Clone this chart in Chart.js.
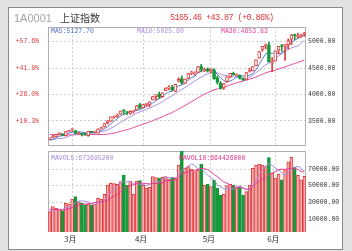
<!DOCTYPE html>
<html lang="zh">
<head>
<meta charset="utf-8">
<title>上证指数</title>
<script src="https://cdn.jsdelivr.net/npm/chart.js@4.4.1/dist/chart.umd.min.js"></script>
<style>
  html, body { margin: 0; padding: 0; }
  body { width: 352px; height: 251px; background: #e2e2e2; position: relative; overflow: hidden; }
  #panel { position: absolute; left: 8px; top: 7px; width: 335px; height: 243px; box-sizing: border-box; background: #fff; border: 1px solid #8a8a8a; }
  canvas { position: absolute; left: 0; top: 0; }
  .t { position: absolute; white-space: nowrap; line-height: 1; font-family: "Liberation Mono", "DejaVu Sans Mono", monospace; }
</style>
</head>
<body>
<div id="panel"></div>
<canvas id="priceChart" width="352" height="251"></canvas>
<canvas id="volChart" width="352" height="251"></canvas>

<!-- header -->
<div class="t" style="left:14px;top:12.5px;font-family:'Liberation Sans',Arial,sans-serif;font-size:11px;color:#a4a4a4">1A0001</div>
<div class="t" style="left:60px;top:13px;font-family:'Noto Sans CJK SC',sans-serif;font-size:10px;color:#333">上证指数</div>
<div class="t" style="left:170px;top:14px;font-size:8.5px;letter-spacing:-0.6px;color:#e0383c">5165.46 +43.87 (+0.86%)</div>

<!-- MA legends -->
<div class="t" style="left:51px;top:28.5px;font-size:6.5px;color:#4a6fcf">MA5:5127.70</div>
<div class="t" style="left:137px;top:28.5px;font-size:6.5px;color:#a48ad8">MA10:5025.80</div>
<div class="t" style="left:221px;top:28.5px;font-size:6.5px;color:#e4409a">MA30:4653.83</div>
<div class="t" style="left:51px;top:155.5px;font-size:6.5px;color:#a48ad8">MAVOL5:673695200</div>
<div class="t" style="left:179px;top:155.5px;font-size:6.5px;color:#e8308a">MAVOL10:664426000</div>

<script>
// 2015 trading days shown (MM-DD)
const dates = [
  '02-12','02-13','02-16','02-17','02-25','02-26','02-27',
  '03-02','03-03','03-04','03-05','03-06','03-09','03-10','03-11','03-12','03-13','03-16','03-17','03-18','03-19','03-20','03-23','03-24','03-25','03-26','03-27','03-30','03-31',
  '04-01','04-02','04-03','04-07','04-08','04-09','04-10','04-13','04-14','04-15','04-16','04-17','04-20','04-21','04-22','04-23','04-24','04-27','04-28','04-29','04-30',
  '05-04','05-05','05-06','05-07','05-08','05-11','05-12','05-13','05-14','05-15','05-18','05-19','05-20','05-21','05-22','05-25','05-26','05-27','05-28','05-29',
  '06-01','06-02','06-03','06-04','06-05','06-08','06-09','06-10','06-11','06-12'
];

const opens = [
  3157,3186,3209,3250,3258,3222,3300,
  3332,3317,3264,3265,3248,3224,3289,3289,3270,3356,3391,3462,3497,3570,3586,3627,3702,3675,3645,3675,3710,3810,
  3748,3815,3803,3899,3963,4014,3958,4072,4123,4140,4061,4255,4301,4212,4304,4405,4387,4420,4528,4449,4483,
  4441,4468,4315,4218,4124,4250,4333,4403,4357,4367,4300,4286,4436,4447,4548,4687,4854,4914,4943,4603,
  4633,4844,4924,4912,4938,5046,5130,5097,5101,5144
];
const highs = [
  3181,3230,3248,3279,3262,3300,3325,
  3355,3320,3286,3266,3267,3306,3297,3309,3350,3385,3450,3507,3578,3600,3632,3689,3715,3678,3693,3700,3795,3835,
  3817,3835,3864,3962,4000,4050,4035,4129,4168,4174,4195,4318,4356,4294,4400,4444,4433,4529,4572,4499,4507,
  4488,4490,4351,4247,4210,4335,4402,4425,4391,4373,4318,4418,4500,4530,4658,4814,4911,4958,4986,4698,
  4829,4911,4951,4950,5052,5140,5147,5164,5144,5178
];
const lows = [
  3150,3178,3202,3246,3220,3215,3291,
  3304,3256,3250,3218,3230,3210,3278,3273,3270,3346,3384,3441,3494,3552,3568,3625,3623,3621,3626,3649,3710,3733,
  3743,3783,3768,3898,3901,3925,3946,4072,4090,4071,4053,4241,4198,4212,4298,4378,4364,4420,4432,4432,4425,
  4411,4286,4198,4103,4097,4233,4317,4363,4348,4291,4260,4276,4425,4447,4548,4687,4820,4862,4614,4431,
  4633,4766,4814,4647,4857,4942,5035,5061,5080,5103
];
const closes = [
  3173.42,3203.83,3246.91,3268.73,3228.84,3298.36,3310.30,
  3336.28,3263.05,3279.53,3248.48,3241.19,3302.41,3286.07,3290.90,3349.32,3372.91,3449.30,3502.85,3577.30,3582.27,3617.32,3687.73,3691.41,3660.73,3682.09,3691.10,3786.57,3747.90,
  3810.29,3825.78,3863.93,3961.38,3994.81,3957.53,4034.31,4121.71,4135.57,4084.16,4194.82,4287.30,4217.08,4293.62,4398.49,4414.51,4393.69,4527.40,4476.62,4476.21,4441.66,
  4480.46,4298.71,4229.27,4112.21,4205.92,4333.58,4401.22,4375.76,4378.31,4308.69,4283.49,4417.55,4446.29,4529.42,4657.60,4813.80,4910.90,4941.71,4620.27,4611.74,
  4828.74,4910.53,4909.98,4947.10,5023.10,5131.88,5113.53,5106.04,5121.59,5165.46
];
// closes before the visible window, needed for the moving averages
const prevCloses = [
  3234.68,3350.52,3351.45,3373.95,3293.46,3285.41,3229.32,3235.30,3222.44,3336.45,3376.50,3116.35,3173.05,3323.61,
  3343.34,3351.76,3383.18,3352.96,3305.74,3262.31,3210.36,3128.30,3204.91,3174.13,3136.53,3075.91,3095.12,3141.59,3157.70
];

// volume, in units of 10000
const volumes = [
  18800,24800,22800,21500,20000,28800,28000,
  34000,36800,30500,28800,26800,27500,27000,28000,34800,34000,39600,50800,52800,52500,51600,54800,62800,50800,55600,40000,55600,56000,
  50800,47000,48000,60800,59600,58800,60000,61000,58000,60000,58800,74800,91500,70800,72800,70000,66800,68800,76000,50800,52000,
  49000,56800,47000,38800,39600,50000,51600,50800,47000,48800,38800,43000,50800,70800,74800,76000,74800,72800,83600,65000,
  59000,64000,57000,69000,78578,84000,72000,62500,57000,61348
];
const prevVolumes = [26000,25000,23000,24000,22000,21000,18000,19000,20500];

const priceTicks = [3500, 4000, 4500, 5000];
const volumeTicks = [10000, 30000, 50000, 70000];

const RED = '#e23a3e';
const GREEN = '#14993a';
const PINK = '#f5b3b3';
const GRID = '#cfcfcf';
const FRAME = '#b0b0b0';
const MONO = 'Liberation Mono';

function movingAvg(history, values, n) {
  const all = history.concat(values);
  return values.map((v, i) => {
    const end = history.length + i;
    let s = 0;
    for (let k = end - n + 1; k <= end; k++) s += all[k];
    return s / n;
  });
}

const isUp = closes.map((c, i) => c >= opens[i]);
const monthStart = dates.map((d, i) => i > 0 && d.slice(0, 2) !== dates[i - 1].slice(0, 2));
const labels = dates.map((d, i) => monthStart[i] ? parseInt(d.slice(0, 2), 10) + '月' : '');

const framePlugin = {
  id: 'frame',
  beforeDatasetsDraw(chart) {
    const { ctx, chartArea: a } = chart;
    ctx.save();
    ctx.strokeStyle = FRAME;
    ctx.lineWidth = 1;
    ctx.strokeRect(Math.round(a.left) + 0.5, Math.round(a.top) + 0.5, Math.round(a.right - a.left) - 1, Math.round(a.bottom - a.top) - 1);
    ctx.restore();
  }
};

const xAxis = (showLabels) => ({
  offset: true,
  grid: {
    offset: false,
    drawTicks: false,
    color: c => monthStart[c.index] ? GRID : 'rgba(0,0,0,0)'
  },
  border: { display: false, dash: [2, 2] },
  ticks: {
    display: showLabels,
    autoSkip: false,
    maxRotation: 0,
    padding: 2,
    labelOffset: -2,
    color: '#333',
    font: { family: 'Noto Sans CJK SC', size: 8 }
  },
  afterFit: s => { s.height = showLabels ? 14 : 0; }
});

// ---- price chart ----
const priceMin = 3027, priceMax = 5278;

new Chart(document.getElementById('priceChart'), {
  type: 'bar',
  data: {
    labels: labels,
    datasets: [
      {
        label: 'wick',
        data: lows.map((l, i) => [l, highs[i]]),
        backgroundColor: isUp.map(u => u ? RED : GREEN),
        barThickness: 1,
        grouped: false,
        order: 1,
        yAxisID: 'y'
      },
      {
        label: 'body',
        data: opens.map((o, i) => [o, closes[i]]),
        backgroundColor: isUp.map(u => u ? '#fff' : GREEN),
        borderColor: isUp.map(u => u ? RED : GREEN),
        borderWidth: 1,
        borderSkipped: false,
        barThickness: 3,
        minBarLength: 1,
        grouped: false,
        order: 0,
        yAxisID: 'y'
      },
      {
        type: 'line', label: 'MA5', data: movingAvg(prevCloses, closes, 5),
        borderColor: '#4f7fd8', borderWidth: 1, pointRadius: 0, order: 2, yAxisID: 'y'
      },
      {
        type: 'line', label: 'MA10', data: movingAvg(prevCloses, closes, 10),
        borderColor: '#ab90e2', borderWidth: 1, pointRadius: 0, order: 3, yAxisID: 'y'
      },
      {
        type: 'line', label: 'MA30', data: movingAvg(prevCloses, closes, 30),
        borderColor: '#ea4b9e', borderWidth: 1, pointRadius: 0, order: 4, yAxisID: 'y'
      }
    ]
  },
  options: {
    responsive: false,
    animation: false,
    events: [],
    layout: { padding: { top: 27, bottom: 105, left: 0, right: 0 } },
    plugins: { legend: { display: false }, tooltip: { enabled: false } },
    scales: {
      x: xAxis(false),
      y: {
        position: 'right',
        min: priceMin, max: priceMax,
        afterBuildTicks: s => { s.ticks = priceTicks.map(v => ({ value: v })); },
        afterFit: s => { s.width = 46; },
        grid: { color: GRID, drawTicks: false },
        border: { display: false, dash: [2, 2] },
        ticks: { padding: 2, color: '#333', font: { family: MONO, size: 6.5 }, callback: v => v.toFixed(2) }
      },
      yp: {
        position: 'left',
        min: priceMin, max: priceMax,
        afterBuildTicks: s => { s.ticks = priceTicks.map(v => ({ value: v })); },
        afterFit: s => { s.width = 48; },
        grid: { display: false, drawTicks: false },
        border: { display: false },
        ticks: {
          padding: 9, color: RED, font: { family: MONO, size: 6.5 },
          callback: v => '+' + ((v / closes[0] - 1) * 100).toFixed(1) + '%'
        }
      }
    }
  },
  plugins: [framePlugin]
});

// ---- volume chart ----
const volMin = -5600, volMax = 91600;

new Chart(document.getElementById('volChart'), {
  type: 'bar',
  data: {
    labels: labels,
    datasets: [
      {
        label: 'VOL',
        data: volumes,
        base: volMin,
        backgroundColor: isUp.map(u => u ? PINK : GREEN),
        borderColor: isUp.map(u => u ? RED : GREEN),
        borderWidth: 1,
        borderSkipped: 'start',
        barThickness: 3,
        order: 2,
        yAxisID: 'y'
      },
      {
        type: 'line', label: 'MAVOL5', data: movingAvg(prevVolumes, volumes, 5),
        borderColor: '#a98ee0', borderWidth: 1, pointRadius: 0, order: 1, yAxisID: 'y'
      },
      {
        type: 'line', label: 'MAVOL10', data: movingAvg(prevVolumes, volumes, 10),
        borderColor: '#e83a8e', borderWidth: 1, pointRadius: 0, order: 0, yAxisID: 'y'
      }
    ]
  },
  options: {
    responsive: false,
    animation: false,
    events: [],
    layout: { padding: { top: 151, bottom: 5, left: 0, right: 0 } },
    plugins: { legend: { display: false }, tooltip: { enabled: false } },
    scales: {
      x: xAxis(true),
      y: {
        position: 'right',
        min: volMin, max: volMax,
        afterBuildTicks: s => { s.ticks = volumeTicks.map(v => ({ value: v })); },
        afterFit: s => { s.width = 46; },
        grid: { color: GRID, drawTicks: false },
        border: { display: false, dash: [2, 2] },
        ticks: { padding: 2, color: '#333', font: { family: MONO, size: 6.5 }, callback: v => v.toFixed(2) }
      },
      yl: {
        position: 'left',
        min: volMin, max: volMax,
        afterFit: s => { s.width = 48; },
        grid: { display: false, drawTicks: false },
        border: { display: false },
        ticks: { display: false }
      }
    }
  },
  plugins: [framePlugin]
});
</script>
</body>
</html>
